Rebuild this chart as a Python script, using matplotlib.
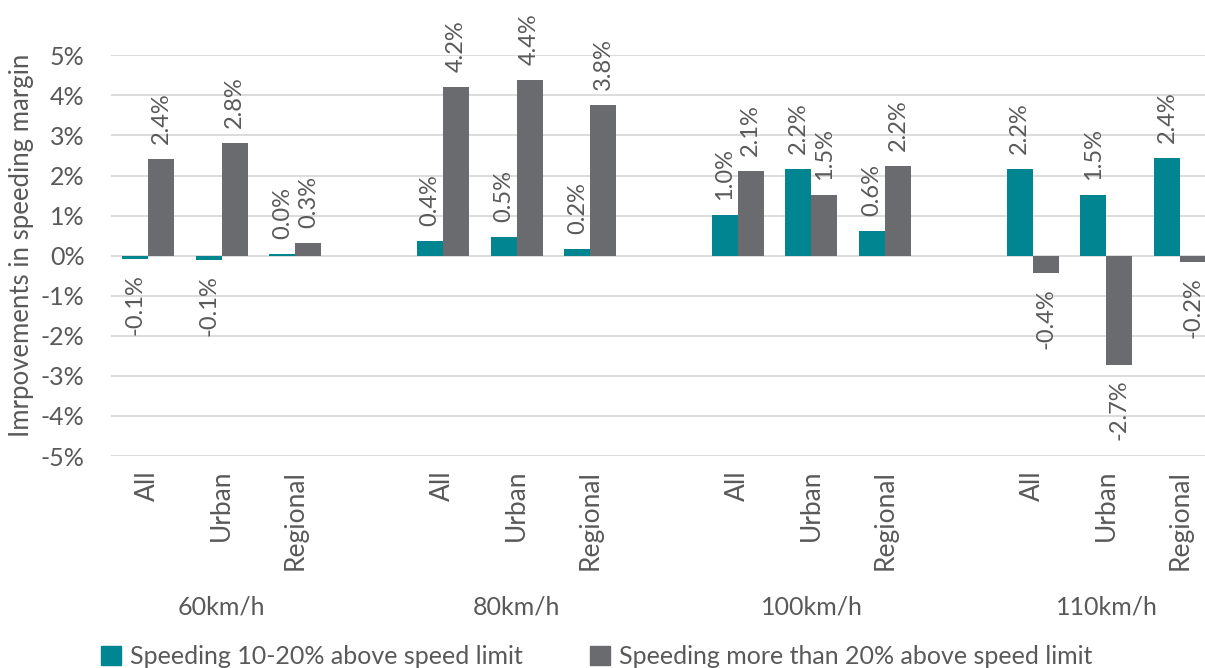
import numpy as np
import matplotlib.pyplot as plt
from matplotlib.patches import Patch

# Speed zones and road types
zones = ['60km/h', '80km/h', '100km/h', '110km/h']
road_types = ['All', 'Urban', 'Regional']

# Change in speeding margin (%), one value per zone/road type
speeding_10_20 = [-0.08, -0.12, 0.04,
                  0.36, 0.47, 0.17,
                  1.02, 2.16, 0.62,
                  2.16, 1.52, 2.43]
speeding_over_20 = [2.41, 2.81, 0.32,
                    4.20, 4.38, 3.76,
                    2.12, 1.52, 2.24,
                    -0.44, -2.72, -0.16]

series_names = ['Speeding 10-20% above speed limit',
                'Speeding more than 20% above speed limit']

teal = '#008591'
grey = '#6A6B6F'
text_grey = '#595959'

plt.rcParams['font.family'] = ['Lato', 'DejaVu Sans']
plt.rcParams['font.size'] = 18

W, H = 1205, 668
fig = plt.figure(figsize=(W / 100, H / 100), dpi=100)

# plot area in pixels: left 111, right 1217, top 55, bottom 456
left, right, top, bottom = 111, 1217, 55.3, 456
ax = fig.add_axes([left / W, 1 - bottom / H, (right - left) / W, (bottom - top) / H])

# each zone takes three slots plus an empty slot between zones
x = np.array([g * 4 + i for g in range(len(zones)) for i in range(len(road_types))])
bw = 0.353

b1 = ax.bar(x - bw / 2, speeding_10_20, width=bw, color=teal, zorder=3)
b2 = ax.bar(x + bw / 2, speeding_over_20, width=bw, color=grey, zorder=3)

# rotated data labels outside the bar ends
for bars, vals in [(b1, speeding_10_20), (b2, speeding_over_20)]:
    for rect, v in zip(bars, vals):
        cx = rect.get_x() + rect.get_width() / 2
        if v >= 0:
            ax.annotate(f'{v:.1f}%', (cx, v), xytext=(0, 15),
                        textcoords='offset pixels', rotation=90,
                        ha='center', va='bottom', color=text_grey,
                        fontsize=17, annotation_clip=False)
        else:
            ax.annotate(f'{v:.1f}%', (cx, v), xytext=(0, -15),
                        textcoords='offset pixels', rotation=90,
                        ha='center', va='top', color=text_grey,
                        fontsize=17, annotation_clip=False)

ax.set_xlim(-0.5, 14.5)
ax.set_ylim(-5, 5)
ax.set_yticks(np.arange(-5, 6, 1))
ax.set_yticklabels([f'{t}%' for t in range(-5, 6)])
ax.yaxis.grid(True, color='#D9D9D9', lw=1.3, zorder=0)
ax.set_axisbelow(True)

ax.set_xticks(x)
ax.set_xticklabels(road_types * len(zones), rotation=90, va='top', fontsize=19)
ax.tick_params(axis='x', length=0, pad=10, colors=text_grey)
ax.tick_params(axis='y', length=0, pad=19, colors=text_grey)

for s in ax.spines.values():
    s.set_visible(False)

# zone names under the road type labels
for g, z in enumerate(zones):
    ax.text(g * 4 + 1, -(607 - bottom) / (bottom - top), z,
            transform=ax.get_xaxis_transform(), ha='center', va='center',
            color=text_grey)

fig.text(22 / W, 1 - 245 / H, 'Imrpovements in speeding margin',
         rotation=90, ha='center', va='center', color=text_grey,
         fontsize=18.5)

handles = [Patch(color=teal), Patch(color=grey)]
fig.legend(handles, series_names, loc='center', ncol=2,
           bbox_to_anchor=(597 / W, 1 - 657 / H), frameon=False,
           handlelength=0.8, handleheight=0.8, handletextpad=0.35,
           columnspacing=2.7, labelcolor=text_grey)

fig.savefig('out.png', dpi=100)
